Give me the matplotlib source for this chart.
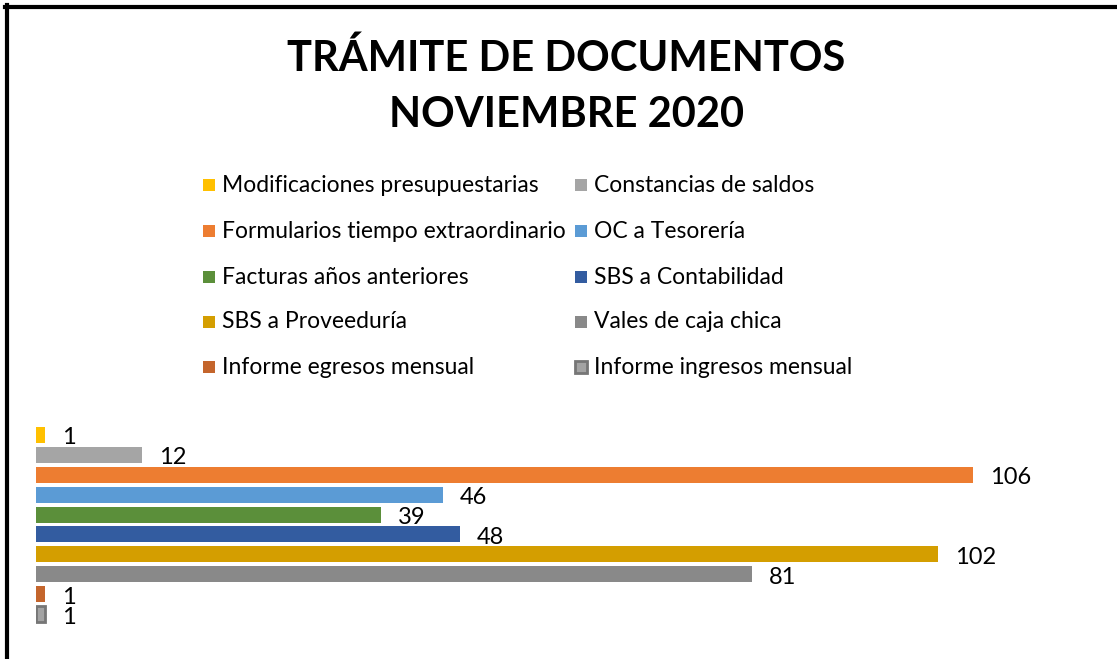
import matplotlib.pyplot as plt
from matplotlib.patches import Rectangle
from matplotlib.lines import Line2D

plt.rcParams['font.family'] = ['Lato', 'DejaVu Sans']

# series, top to bottom (legend reads row by row in the same order)
labels = ['Modificaciones presupuestarias', 'Constancias de saldos',
          'Formularios tiempo extraordinario', 'OC a Tesorería',
          'Facturas años anteriores', 'SBS a Contabilidad',
          'SBS a Proveeduría', 'Vales de caja chica',
          'Informe egresos mensual', 'Informe ingresos mensual']
values = [1, 12, 106, 46, 39, 48, 102, 81, 1, 1]
colors = ['#FFC000', '#A5A5A5', '#ED7D31', '#5B9BD5', '#5B8F3A',
          '#335CA0', '#D49E00', '#898989', '#C4652C', '#A3A3A3']
edges = [None] * 9 + ['#767676']

W, H = 1117, 659
fig = plt.figure(figsize=(W / 100, H / 100), dpi=100)

# frame lines (top and left only, like the cropped screenshot)
fig.add_artist(Line2D([5 / W, 1], [1 - 7 / H, 1 - 7 / H], color='black', lw=3, transform=fig.transFigure))
fig.add_artist(Line2D([7 / W, 7 / W], [0, 1 - 5 / H], color='black', lw=3, transform=fig.transFigure))

fig.text(0.507, 1 - 58 / H, 'TRÁMITE DE DOCUMENTOS', ha='center', va='center',
         fontsize=30, fontweight='bold')
fig.text(0.507, 1 - 115 / H, 'NOVIEMBRE 2020', ha='center', va='center',
         fontsize=30, fontweight='bold')

# legend, drawn by hand: 2 columns, row-wise
col_x = [203, 575]
row_y = [185, 231, 277, 322, 367]
for i, lab in enumerate(labels):
    cx = col_x[i % 2]
    cy = row_y[i // 2]
    ec = edges[i] if edges[i] else colors[i]
    lw = 2 if edges[i] else 0
    fig.add_artist(Rectangle((cx / W, 1 - (cy + 6) / H), 12 / W, 12 / H,
                             facecolor=colors[i], edgecolor=ec, lw=lw,
                             transform=fig.transFigure))
    fig.text((cx + 19) / W, 1 - cy / H, lab, ha='left', va='center', fontsize=16.5)

# bars
ax = fig.add_axes([36 / W, 1 - 624 / H, 1061 / W, 199 / H])
ypos = list(range(len(values)))
for y, v, c, e in zip(ypos, values, colors, edges):
    ax.barh(y, v, height=0.8, color=c, edgecolor=e if e else c, lw=2 if e else 0)
    ax.text(v + 1.9, y + 0.15, str(v), ha='left', va='center', fontsize=17)

ax.set_xlim(0, 120)
ax.set_ylim(len(values) - 0.5, -0.5)
ax.axis('off')

fig.savefig('out.png', dpi=100)
